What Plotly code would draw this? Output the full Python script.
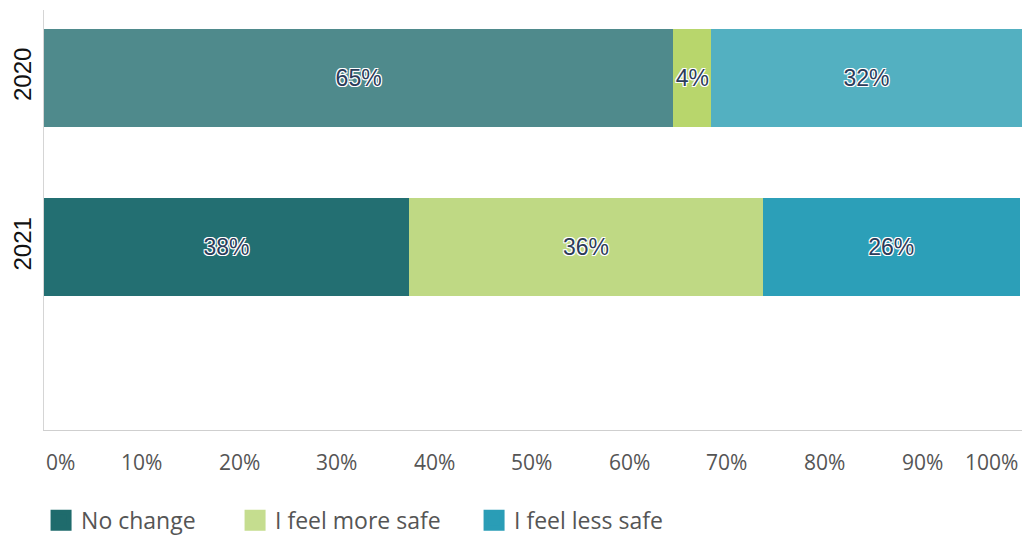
import plotly.graph_objects as go

years = ["2020", "2021"]
series_names = ["No change", "I feel more safe", "I feel less safe"]
# values; labels as printed on the bars
no_change = [64.5, 37.4]
more_safe = [3.9, 36.3]
less_safe = [31.8, 26.3]
no_change_labels = ["65%", "38%"]
more_safe_labels = ["4%", "36%"]
less_safe_labels = ["32%", "26%"]
tick_vals = [0, 10, 20, 30, 40, 50, 60, 70, 80, 90, 100]
tick_text = [f"{v}%" for v in tick_vals]

bar_colors = [
    ["#4f8a8c", "#236f72"],
    ["#b8d66c", "#bfd984"],
    ["#53b0c1", "#2c9fb8"],
]
legend_colors = ["#1f6b6c", "#c5dd8f", "#2a9db6"]
legend_widths = [149, 194, 160]

halo = ("1px 1px 0 #ffffff, -1px -1px 0 #ffffff, 1px -1px 0 #ffffff, "
        "-1px 1px 0 #ffffff, 0 1px 0 #ffffff, 0 -1px 0 #ffffff")

fig = go.Figure()
for name, vals, labels, cols in zip(series_names,
                                    [no_change, more_safe, less_safe],
                                    [no_change_labels, more_safe_labels, less_safe_labels],
                                    bar_colors):
    fig.add_trace(go.Bar(
        y=years, x=vals, orientation="h", name=name,
        marker=dict(color=cols, line=dict(width=0)),
        width=0.578,
        text=labels, textposition="inside", textangle=0,
        insidetextanchor="middle",
        textfont=dict(family="Liberation Sans, Arial", size=23, color="#2c3c5a",
                      shadow=halo),
        constraintext="none",
        showlegend=False, hoverinfo="skip",
    ))

for name, col, lw in zip(series_names, legend_colors, legend_widths):
    fig.add_trace(go.Scatter(
        x=[None], y=[None], mode="markers", name=name, legendwidth=lw,
        marker=dict(symbol="square", size=16, color=col, line=dict(width=5, color=col)),
        showlegend=True,
    ))

# x tick labels as annotations (first left-aligned, last right-aligned)
for v, t in zip(tick_vals, tick_text):
    anchor = "left" if v == 0 else ("right" if v == 100 else "center")
    fig.add_annotation(x=v, y=0, xref="x", yref="paper", yshift=-32,
                       text=t, showarrow=False, xanchor=anchor, yanchor="middle",
                       font=dict(family="Open Sans, Noto Sans", size=21, color="#555555"))

fig.update_layout(
    barmode="stack",
    width=1024, height=538,
    margin=dict(l=44, r=2, t=10, b=108, autoexpand=False),
    paper_bgcolor="white", plot_bgcolor="white",
    xaxis=dict(range=[0, 100.25], showticklabels=False, showgrid=False, zeroline=False,
               showline=True, linecolor="#cfcfcf", linewidth=1, ticks="",
               automargin=False, fixedrange=True),
    yaxis=dict(type="category", categoryorder="array", categoryarray=years,
               range=[2.077, -0.401], showgrid=False, zeroline=False,
               showline=True, linecolor="#d5d5d5", linewidth=1,
               tickangle=-90, ticks="", automargin=False, ticklabelstandoff=2,
               tickfont=dict(family="Liberation Sans, Arial", size=24, color="#111111")),
    legend=dict(orientation="h", x=-0.003, xanchor="left", y=-0.215, yanchor="middle",
                font=dict(family="Open Sans, Noto Sans", size=23, color="#555555"),
                itemsizing="trace", bgcolor="rgba(0,0,0,0)",
                traceorder="normal", tracegroupgap=0),
)

fig.write_html("out.html", config={"displayModeBar": False},
               post_script="document.body.style.margin='0';document.body.style.overflow='hidden';")
